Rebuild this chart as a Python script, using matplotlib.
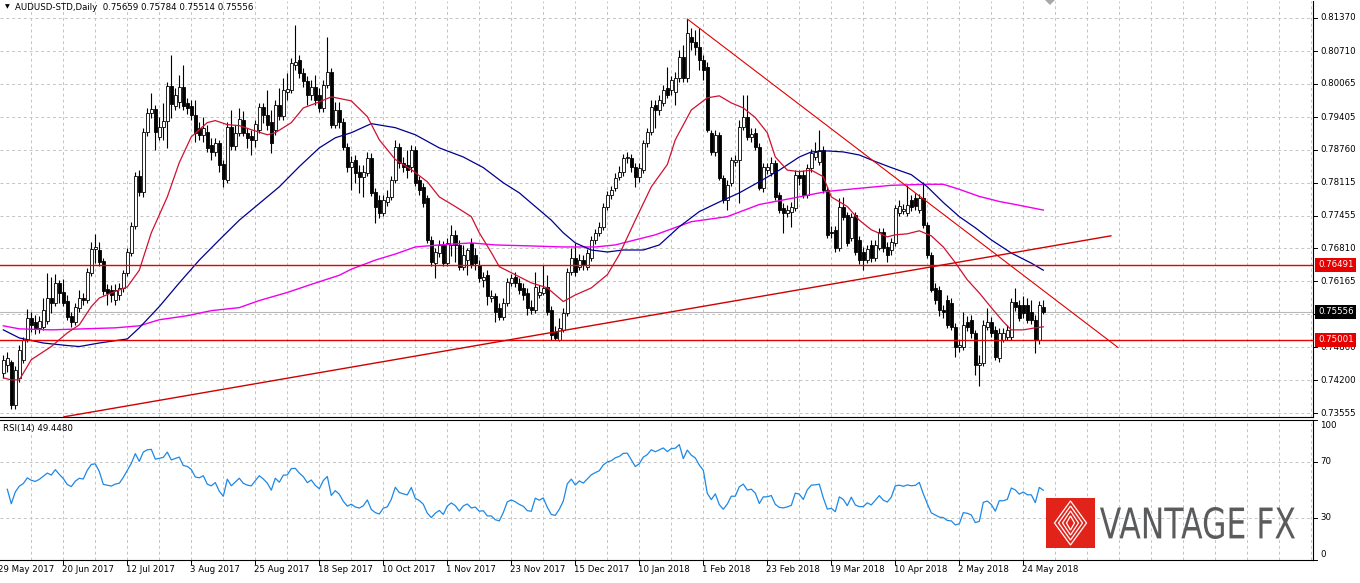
import numpy as np
import matplotlib
matplotlib.use("Agg")
import matplotlib.pyplot as plt
from matplotlib.patches import Rectangle, Polygon, PathPatch
from matplotlib.textpath import TextPath
from matplotlib.font_manager import FontProperties
from matplotlib.transforms import Affine2D, blended_transform_factory

# ---------------- data : daily AUDUSD bars, prices in units of 0.0001 ----------------
SCALE = 1e-4
open_p = [7435, 7451, 7457, 7372, 7425, 7461, 7500, 7544, 7536, 7524,
          7526, 7538, 7583, 7574, 7613, 7595, 7578, 7548, 7536, 7564,
          7583, 7580, 7633, 7680, 7678, 7657, 7601, 7599, 7580, 7589,
          7603, 7633, 7673, 7726, 7825, 7793, 7912, 7949, 7957, 7902,
          7922, 7934, 8003, 7963, 7971, 8001, 7969, 7963, 7945, 7920,
          7906, 7912, 7886, 7872, 7890, 7849, 7817, 7922, 7884, 7910,
          7936, 7910, 7904, 7896, 7916, 7961, 7946, 7932, 7916, 7965,
          7944, 7991, 7995, 8044, 8054, 8029, 8013, 7985, 8001, 7985,
          7959, 8005, 8031, 7926, 7955, 7932, 7882, 7843, 7857, 7833,
          7823, 7831, 7860, 7793, 7777, 7752, 7773, 7783, 7817, 7882,
          7851, 7847, 7843, 7876, 7817, 7803, 7781, 7698, 7653, 7673,
          7688, 7653, 7688, 7708, 7688, 7645, 7659, 7692, 7669, 7649,
          7619, 7629, 7583, 7586, 7564, 7546, 7574, 7613, 7625, 7613,
          7603, 7593, 7566, 7560, 7589, 7593, 7605, 7560, 7516, 7500,
          7520, 7554, 7635, 7663, 7645, 7659, 7645, 7663, 7698, 7712,
          7724, 7764, 7787, 7801, 7823, 7833, 7860, 7860, 7843, 7823,
          7837, 7890, 7912, 7965, 7955, 7969, 7999, 7995, 7991, 8019,
          8060, 8019, 8100, 8090, 8080, 8054, 8040, 7910, 7872, 7906,
          7821, 7777, 7811, 7853, 7857, 7922, 7942, 7902, 7910, 7882,
          7801, 7837, 7831, 7851, 7787, 7762, 7752, 7754, 7762, 7827,
          7827, 7787, 7841, 7862, 7853, 7876, 7797, 7714, 7718, 7682,
          7764, 7748, 7702, 7748, 7698, 7675, 7659, 7688, 7663, 7682,
          7714, 7684, 7678, 7692, 7752, 7756, 7752, 7777, 7781, 7758,
          7781, 7728, 7669, 7603, 7599, 7560, 7580, 7574, 7526, 7487,
          7487, 7536, 7540, 7514, 7451, 7455, 7526, 7536, 7520, 7465,
          7500, 7506, 7506, 7576, 7570, 7570, 7570, 7556, 7540, 7500,
          7565.9]
high_p = [7471, 7477, 7461, 7449, 7491, 7506, 7562, 7556, 7550, 7548,
          7583, 7633, 7625, 7631, 7619, 7621, 7588, 7556, 7574, 7599,
          7593, 7642, 7694, 7710, 7694, 7663, 7611, 7609, 7611, 7613,
          7638, 7682, 7734, 7833, 7837, 7920, 7959, 7989, 7965, 7942,
          7969, 8011, 8064, 7999, 8025, 8044, 7979, 7975, 7975, 7932,
          7942, 7926, 7900, 7900, 7896, 7857, 7932, 7955, 7926, 7959,
          7952, 7920, 7916, 7936, 7969, 7969, 7995, 7955, 7975, 7999,
          8019, 8029, 8058, 8124, 8064, 8038, 8023, 8015, 8025, 7999,
          8015, 8100, 8038, 7971, 7971, 7940, 7890, 7863, 7866, 7847,
          7847, 7872, 7870, 7801, 7787, 7787, 7797, 7825, 7896, 7890,
          7861, 7876, 7886, 7884, 7825, 7811, 7787, 7706, 7682, 7698,
          7696, 7702, 7728, 7718, 7698, 7688, 7682, 7702, 7682, 7659,
          7635, 7638, 7599, 7593, 7574, 7583, 7623, 7631, 7635, 7623,
          7613, 7603, 7580, 7635, 7609, 7649, 7629, 7568, 7528, 7544,
          7564, 7642, 7682, 7692, 7671, 7669, 7680, 7706, 7720, 7734,
          7771, 7795, 7805, 7831, 7845, 7868, 7872, 7868, 7851, 7851,
          7896, 7920, 7975, 7975, 7985, 8005, 8040, 8023, 8031, 8074,
          8084, 8135, 8118, 8114, 8118, 8064, 8050, 7916, 7916, 7912,
          7827, 7817, 7862, 7866, 7936, 7985, 7985, 7920, 7920, 7890,
          7851, 7851, 7862, 7857, 7793, 7771, 7768, 7773, 7837, 7837,
          7837, 7849, 7878, 7892, 7916, 7884, 7803, 7726, 7726, 7781,
          7783, 7754, 7752, 7754, 7706, 7683, 7688, 7698, 7698, 7722,
          7722, 7694, 7702, 7768, 7777, 7769, 7807, 7787, 7791, 7789,
          7813, 7734, 7675, 7613, 7607, 7570, 7588, 7583, 7534, 7500,
          7556, 7548, 7550, 7520, 7471, 7540, 7564, 7546, 7528, 7524,
          7524, 7530, 7583, 7603, 7580, 7586, 7583, 7580, 7550, 7578,
          7578.4]
low_p = [7425, 7437, 7364, 7364, 7417, 7455, 7495, 7516, 7512, 7514,
         7520, 7532, 7554, 7568, 7574, 7568, 7540, 7526, 7530, 7556,
         7570, 7574, 7627, 7653, 7647, 7588, 7570, 7576, 7570, 7580,
         7595, 7627, 7667, 7720, 7785, 7783, 7904, 7940, 7876, 7896,
         7896, 7880, 7940, 7955, 7959, 7955, 7948, 7936, 7892, 7896,
         7892, 7872, 7857, 7864, 7833, 7803, 7811, 7876, 7876, 7904,
         7904, 7880, 7866, 7882, 7910, 7930, 7916, 7870, 7906, 7936,
         7936, 7975, 7989, 8035, 8019, 8001, 7965, 7975, 7965, 7951,
         7951, 7999, 7920, 7920, 7920, 7876, 7833, 7797, 7811, 7791,
         7783, 7825, 7785, 7732, 7742, 7746, 7766, 7777, 7811, 7841,
         7833, 7821, 7833, 7805, 7787, 7764, 7692, 7647, 7623, 7665,
         7647, 7647, 7667, 7655, 7639, 7639, 7629, 7643, 7639, 7615,
         7605, 7570, 7576, 7535, 7540, 7540, 7568, 7607, 7605, 7591,
         7580, 7550, 7552, 7554, 7583, 7588, 7550, 7500, 7499, 7497,
         7516, 7548, 7629, 7627, 7639, 7639, 7639, 7657, 7690, 7706,
         7718, 7758, 7779, 7795, 7817, 7825, 7851, 7833, 7803, 7813,
         7831, 7882, 7906, 7920, 7946, 7963, 7979, 7985, 7965, 8011,
         8011, 8011, 8074, 8064, 8034, 8015, 7912, 7866, 7864, 7817,
         7771, 7758, 7805, 7845, 7771, 7916, 7896, 7892, 7876, 7797,
         7793, 7829, 7825, 7777, 7752, 7712, 7744, 7724, 7756, 7807,
         7781, 7781, 7833, 7857, 7847, 7791, 7702, 7702, 7674, 7676,
         7738, 7686, 7696, 7669, 7651, 7639, 7653, 7655, 7657, 7677,
         7675, 7655, 7669, 7686, 7746, 7750, 7746, 7756, 7758, 7752,
         7722, 7663, 7595, 7572, 7548, 7544, 7524, 7520, 7467, 7477,
         7481, 7518, 7504, 7431, 7408, 7449, 7520, 7506, 7461, 7457,
         7495, 7499, 7500, 7558, 7537, 7544, 7534, 7532, 7475, 7493,
         7551.4]
close_p = [7461, 7465, 7372, 7441, 7481, 7500, 7544, 7530, 7524, 7538,
           7560, 7583, 7574, 7613, 7593, 7574, 7546, 7536, 7566, 7583,
           7580, 7635, 7680, 7684, 7655, 7597, 7593, 7589, 7599, 7603,
           7633, 7675, 7726, 7825, 7793, 7912, 7949, 7957, 7912, 7922,
           7934, 8003, 7967, 7985, 8001, 7963, 7959, 7945, 7910, 7906,
           7920, 7880, 7872, 7890, 7847, 7819, 7922, 7884, 7910, 7938,
           7910, 7900, 7896, 7928, 7961, 7946, 7926, 7890, 7965, 7944,
           7995, 7997, 8048, 8050, 8029, 8013, 7985, 8001, 7975, 7959,
           8005, 8031, 7926, 7955, 7932, 7882, 7843, 7853, 7831, 7823,
           7833, 7860, 7791, 7764, 7752, 7777, 7783, 7817, 7882, 7851,
           7843, 7837, 7876, 7811, 7797, 7771, 7698, 7655, 7675, 7688,
           7653, 7692, 7708, 7688, 7645, 7669, 7678, 7649, 7653, 7623,
           7625, 7586, 7586, 7556, 7546, 7574, 7615, 7623, 7613, 7599,
           7589, 7564, 7560, 7605, 7595, 7603, 7556, 7510, 7504, 7524,
           7554, 7635, 7663, 7635, 7659, 7649, 7673, 7698, 7712, 7724,
           7764, 7787, 7797, 7821, 7833, 7860, 7862, 7843, 7823, 7841,
           7890, 7912, 7961, 7955, 7975, 7995, 7985, 8015, 8019, 8060,
           8019, 8108, 8090, 8080, 8054, 8034, 7916, 7872, 7906, 7821,
           7777, 7807, 7857, 7857, 7922, 7942, 7902, 7908, 7882, 7801,
           7843, 7843, 7851, 7783, 7757, 7752, 7757, 7764, 7827, 7821,
           7787, 7841, 7870, 7872, 7876, 7797, 7708, 7712, 7682, 7764,
           7744, 7692, 7744, 7675, 7659, 7659, 7680, 7663, 7688, 7714,
           7682, 7669, 7694, 7762, 7766, 7760, 7768, 7764, 7766, 7781,
           7728, 7669, 7599, 7580, 7560, 7556, 7530, 7526, 7487, 7491,
           7530, 7526, 7514, 7451, 7455, 7530, 7536, 7514, 7467, 7514,
           7514, 7520, 7576, 7566, 7544, 7554, 7540, 7540, 7500, 7570,
           7555.6]

# moving averages (bar index, value in 0.0001)
ma_red_bars = [0, 2, 4, 7, 12, 16, 19, 22, 24, 27, 31, 34, 37, 41, 44, 47, 51, 53, 56, 59,
               62, 66, 68, 72, 75, 79, 82, 87, 91, 94, 98, 102, 106, 109, 113, 117, 119, 122, 124, 128,
               132, 136, 140, 143, 147, 151, 154, 158, 162, 166, 168, 172, 176, 179, 182, 185, 188, 191, 193, 196,
               199, 202, 205, 207, 211, 214, 217, 221, 223, 226, 229, 232, 235, 238, 241, 244, 247, 250, 252, 255,
               258, 260]
ma_red_vals = [7425, 7421, 7421, 7461, 7487, 7514, 7530, 7566, 7583, 7593, 7605, 7638, 7712, 7783, 7851, 7902, 7930, 7934, 7926, 7924,
               7916, 7906, 7910, 7930, 7959, 7971, 7981, 7973, 7942, 7896, 7857, 7837, 7813, 7783, 7764, 7744, 7712, 7673, 7645, 7629,
               7613, 7603, 7576, 7589, 7603, 7629, 7669, 7737, 7803, 7847, 7896, 7955, 7979, 7983, 7969, 7959, 7940, 7910, 7862, 7836,
               7833, 7836, 7823, 7783, 7764, 7737, 7718, 7704, 7708, 7710, 7716, 7706, 7684, 7653, 7619, 7593, 7564, 7536, 7520, 7520,
               7524, 7526]
ma_blue_bars = [0, 4, 10, 16, 19, 24, 31, 34, 39, 44, 49, 54, 59, 64, 69, 74, 79, 83, 87, 92,
                98, 103, 109, 115, 120, 125, 129, 133, 137, 140, 143, 147, 151, 155, 160, 164, 169, 174, 179, 184,
                189, 194, 199, 202, 206, 210, 214, 218, 222, 227, 231, 235, 239, 243, 247, 252, 257, 260]
ma_blue_vals = [7520, 7504, 7494, 7489, 7487, 7494, 7502, 7524, 7566, 7613, 7658, 7698, 7737, 7770, 7803, 7843, 7880, 7900, 7910, 7928,
                7920, 7906, 7880, 7862, 7841, 7811, 7791, 7764, 7737, 7712, 7692, 7678, 7674, 7678, 7678, 7688, 7724, 7754, 7773, 7791,
                7813, 7836, 7862, 7872, 7874, 7872, 7866, 7853, 7841, 7827, 7803, 7772, 7744, 7722, 7698, 7672, 7652, 7638]
ma_mag_bars = [0, 4, 12, 20, 28, 34, 39, 46, 52, 59, 64, 71, 77, 84, 87, 93, 98, 103, 109, 117,
               123, 132, 140, 148, 153, 158, 163, 172, 181, 189, 197, 206, 214, 222, 231, 235, 239, 244, 249, 253,
               260]
ma_mag_vals = [7528, 7522, 7520, 7522, 7524, 7528, 7540, 7548, 7558, 7564, 7578, 7594, 7610, 7628, 7640, 7658, 7670, 7684, 7688, 7692,
               7688, 7686, 7684, 7684, 7688, 7698, 7708, 7734, 7744, 7768, 7780, 7794, 7800, 7806, 7808, 7808, 7798, 7784, 7774, 7768,
               7757]

# drawn objects
trend_down_bars = [171, 278.7]
trend_down_vals = [0.8135, 0.7485]
trend_up_bars = [15.2, 276.9]
trend_up_vals = [0.7348, 0.7706]
level_prices = [0.76491, 0.75001]
bid_price = 0.75556

price_ticks = [0.81370, 0.80710, 0.80065, 0.79405, 0.78760, 0.78115, 0.77455,
               0.76810, 0.76165, 0.75515, 0.74860, 0.74200, 0.73555]
rsi_ticks = [100, 70, 30, 0]
date_labels = ["29 May 2017", "20 Jun 2017", "12 Jul 2017", "3 Aug 2017", "25 Aug 2017",
               "18 Sep 2017", "10 Oct 2017", "1 Nov 2017", "23 Nov 2017", "15 Dec 2017",
               "10 Jan 2018", "1 Feb 2018", "23 Feb 2018", "19 Mar 2018", "10 Apr 2018",
               "2 May 2018", "24 May 2018"]
date_bars = [-1, 15, 31, 47, 63, 79, 95, 111, 127, 143, 159, 175, 191, 207, 223, 239, 255]
symbol_title = "AUDUSD-STD,Daily"
rsi_title = "RSI(14) 49.4480"

# ---------------- derived ----------------
o = np.array(open_p) * SCALE
h = np.array(high_p) * SCALE
l = np.array(low_p) * SCALE
c = np.array(close_p) * SCALE
n = len(c)
idx = np.arange(n)

# RSI(14), Wilder smoothing (history before the window assumed balanced)
d = np.diff(c)
gain = np.where(d > 0, d, 0.0)
loss = np.where(d < 0, -d, 0.0)
ag = al = 0.5 * np.abs(d[:14]).mean()
rsi = np.full(n, np.nan)
for i in range(1, n):
    ag = (ag * 13 + gain[i - 1]) / 14
    al = (al * 13 + loss[i - 1]) / 14
    rsi[i] = 100.0 if al == 0 else 100 - 100 / (1 + ag / al)

# ---------------- figure ----------------
W, H = 1360, 583
FS = 6.2
plt.rcParams['font.family'] = ['DejaVu Sans']
fig = plt.figure(figsize=(W / 100, H / 100), dpi=100)
fig.patch.set_facecolor('white')


def fy(py):
    return 1 - py / H


ax = fig.add_axes([0, fy(417), 1313 / W, (417 - 1) / H])
ax_r = fig.add_axes([0, fy(560), 1313 / W, (560 - 420) / H])
XL = (-3.3 / 4, (1313 - 3.3) / 4)
for a in (ax, ax_r):
    a.set_xlim(*XL)
    a.set_xticks([])
    a.set_yticks([])
    a.set_facecolor('white')
    a.spines['left'].set_visible(False)
    for s in a.spines.values():
        s.set_linewidth(0.8)
        s.set_color('black')
ax.spines['top'].set_visible(False)
ax.set_ylim(0.73476, 0.81706)
ax_r.set_ylim(0, 100)

grid_kw = dict(color='#c4c4c4', lw=0.7, ls=(0, (3, 3)), zorder=0)
for b in np.arange(-1, 330, 8):
    ax.axvline(b, **grid_kw)
    ax_r.axvline(b, **grid_kw)
for p in price_ticks:
    ax.axhline(p, **grid_kw)
for v in (70, 30):
    ax_r.axhline(v, **grid_kw)

# bid line
ax.axhline(bid_price, color='#b8b8b8', lw=0.8, zorder=1)

# candles
ax.vlines(idx, l, h, color='black', lw=0.8, zorder=3)
for i in range(n):
    up = c[i] >= o[i]
    ax.add_patch(Rectangle((i - 0.36, min(o[i], c[i])), 0.72, abs(c[i] - o[i]),
                           facecolor='white' if up else 'black', edgecolor='black',
                           lw=0.6, zorder=3.5))

# moving averages
ax.plot(ma_mag_bars, np.array(ma_mag_vals) * SCALE, color='#ee00ee', lw=1.0, zorder=4)
ax.plot(ma_blue_bars, np.array(ma_blue_vals) * SCALE, color='#000090', lw=0.9, zorder=4)
ax.plot(ma_red_bars, np.array(ma_red_vals) * SCALE, color='#d01030', lw=0.9, zorder=4)

# levels and trend lines
for p in level_prices:
    ax.axhline(p, color='#e60000', lw=1.0, zorder=5)
ax.plot(trend_down_bars, trend_down_vals, color='#e00000', lw=0.8, zorder=5)
ax.plot(trend_up_bars, trend_up_vals, color='#d00000', lw=1.0, zorder=5)

# right price scale
tr = blended_transform_factory(fig.transFigure, ax.transData)
for p in price_ticks:
    ax.text(1320 / W, p, f"{p:.5f}", transform=tr, fontsize=FS, va='center', ha='left',
            clip_on=False, zorder=6)
    ax.plot([1313 / W, 1317 / W], [p, p], transform=tr, color='black', lw=0.7, clip_on=False)
for p, col in ((level_prices[0], '#e60000'), (bid_price, 'black'), (level_prices[1], '#e60000')):
    ax.text(1318 / W, p, f"{p:.5f}", transform=tr, fontsize=FS, va='center', ha='left',
            color='white', clip_on=False, zorder=10,
            bbox=dict(boxstyle='square,pad=0.3', fc=col, ec='none'))

# RSI panel
ax_r.plot(idx, rsi, color='#1e88e5', lw=0.9, zorder=3)
trr = blended_transform_factory(fig.transFigure, ax_r.transData)
for v in rsi_ticks:
    va = 'top' if v == 100 else ('bottom' if v == 0 else 'center')
    yv = 99 if v == 100 else (1 if v == 0 else v)
    ax_r.text(1320 / W, yv, str(v), transform=trr, fontsize=FS, va=va, ha='left', clip_on=False)
    ax_r.plot([1313 / W, 1317 / W], [v, v], transform=trr, color='black', lw=0.7, clip_on=False)
fig.text(3 / W, fy(428), rsi_title, fontsize=FS, va='center', ha='left')

# date axis
trd = blended_transform_factory(ax_r.transData, fig.transFigure)
for b, lab in zip(date_bars, date_labels):
    ax_r.text(b - 0.3, fy(570), lab, transform=trd, fontsize=FS, va='center', ha='left', clip_on=False)
    ax_r.plot([b, b], [fy(560), fy(564)], transform=trd, color='black', lw=0.7, clip_on=False)

# title
fig.text(5 / W, fy(7), "\u25BC", fontsize=4.5, va='center', ha='left')
fig.text(15 / W, fy(7), f"{symbol_title}  {o[-1]:.5f} {h[-1]:.5f} {l[-1]:.5f} {c[-1]:.5f}",
         fontsize=FS, va='center', ha='left')

# overlay: chart-shift marker and logo
ov = fig.add_axes([0, 0, 1, 1], zorder=10)
ov.set_xlim(0, W)
ov.set_ylim(H, 0)
ov.axis('off')
ov.add_patch(Polygon([(1045, 0), (1055, 0), (1050, 5)], closed=True, fc='#a8a8a8', ec='none'))
ov.add_patch(Rectangle((1046, 498), 49, 50, fc='#e2231a', ec='none'))
cx, cy = 1070.5, 523
for hw, hh in [(4, 7), (8, 12), (12, 17), (16, 22)]:
    ov.add_patch(Polygon([(cx, cy - hh), (cx + hw, cy), (cx, cy + hh), (cx - hw, cy)],
                         closed=True, fill=False, ec='white', lw=0.9))
fp = FontProperties(family='DejaVu Sans')
tp = TextPath((0, 0), "VANTAGE FX", size=100, prop=fp)
ext = tp.get_extents()
trf = Affine2D().translate(-ext.x0, -ext.y0).scale(195 / ext.width, -32 / ext.height).translate(1100, 539)
ov.add_patch(PathPatch(trf.transform_path(tp), fc='#5a5b5d', ec='none'))

fig.savefig("out.png", dpi=100, facecolor='white')
